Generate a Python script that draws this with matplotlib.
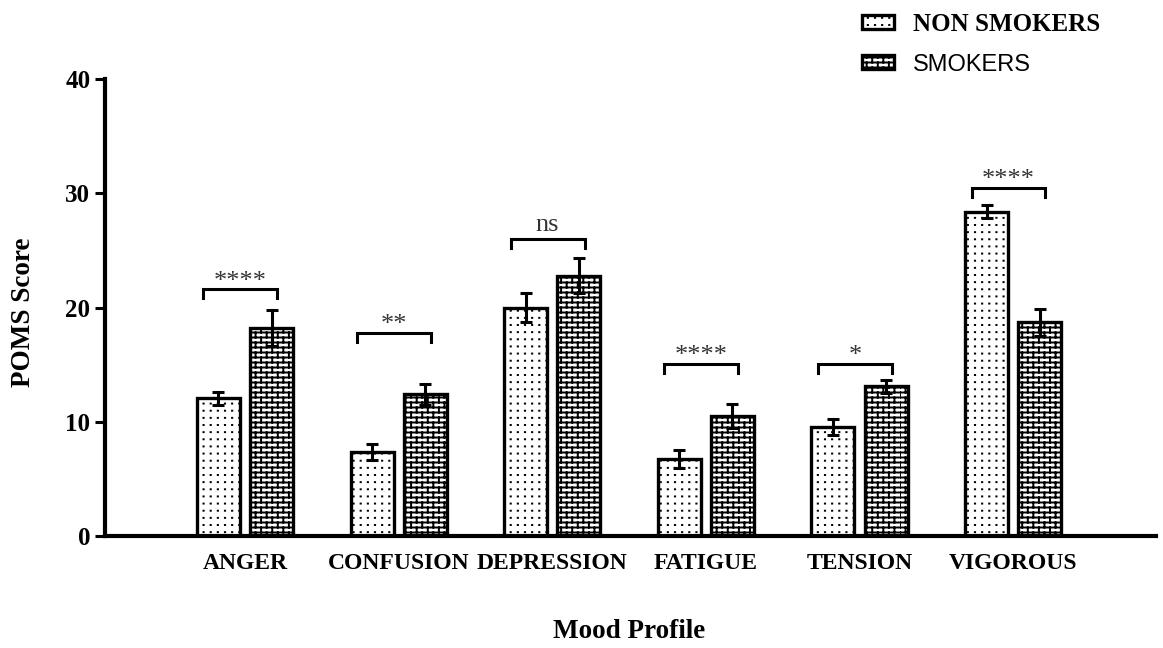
## POMS mood profile: non smokers vs smokers, grouped bars with SEM and significance brackets
import numpy as np
import matplotlib
matplotlib.use("Agg")
import matplotlib.pyplot as plt
import matplotlib.hatch as mhatch
from matplotlib.path import Path

categories = ["ANGER", "CONFUSION", "DEPRESSION", "FATIGUE", "TENSION", "VIGOROUS"]
non_smokers = [12.05, 7.35, 20.0, 6.75, 9.5, 28.4]
non_smokers_err = [0.6, 0.7, 1.25, 0.8, 0.7, 0.6]
smokers = [18.2, 12.4, 22.8, 10.5, 13.1, 18.7]
smokers_err = [1.6, 0.95, 1.5, 1.05, 0.6, 1.2]
signif = ["****", "**", "ns", "****", "*", "****"]
bracket_y = [21.6, 17.8, 26.0, 15.1, 15.1, 30.5]
yticks = [0, 10, 20, 30, 40]


## brick pattern for the smokers bars, used in place of the '*' hatch
class BrickHatch(mhatch.HatchPatternBase):
    def __init__(self, hatch, density):
        verts = []
        if "*" in hatch:
            rows, cols = 20, 9
            h, w = 1.0 / rows, 1.0 / cols
            for r in range(rows):
                y = (r + 0.5) * h
                verts += [(0, y), (1, y)]
                shift = w / 2 if r % 2 else 0
                for c in range(cols):
                    x = c * w + shift
                    if r == rows - 1:
                        verts += [(x, y), (x, 1.0), (x, 0.0), (x, 0.5 * h)]
                    else:
                        verts += [(x, y), (x, y + h)]
        self.verts = verts
        self.num_vertices = len(verts)

    def set_vertices_and_codes(self, vertices, codes):
        vertices[:] = np.array(self.verts)
        codes[0::2] = Path.MOVETO
        codes[1::2] = Path.LINETO


## sparse dot grid for the non smokers bars, used in place of the '.' hatch
class DotHatch(mhatch.HatchPatternBase):
    def __init__(self, hatch, density):
        verts = []
        if "." in hatch:
            n = 14
            for r in range(n):
                for c in range(n):
                    x, y = (c + 0.5) / n, (r + 0.5) / n
                    verts += [(x - 0.001, y), (x + 0.001, y)]
        self.verts = verts
        self.num_vertices = len(verts)

    def set_vertices_and_codes(self, vertices, codes):
        vertices[:] = np.array(self.verts)
        codes[0::2] = Path.MOVETO
        codes[1::2] = Path.LINETO


mhatch._hatch_types[mhatch._hatch_types.index(mhatch.Stars)] = BrickHatch
mhatch._hatch_types[mhatch._hatch_types.index(mhatch.SmallFilledCircles)] = DotHatch

plt.rcParams["font.family"] = "Liberation Serif"
plt.rcParams["hatch.linewidth"] = 1.4
plt.rcParams["hatch.color"] = "black"

x = np.arange(len(categories))
off = 0.173
width = 0.28

fig = plt.figure(figsize=(11.63, 6.48), dpi=100)
ax = fig.add_axes([0.0903, 0.1728, 0.9037, 0.7052])

b1 = ax.bar(x - off, non_smokers, width, color="white", edgecolor="black",
            linewidth=2.4, hatch=".", label="NON SMOKERS", zorder=2)
b2 = ax.bar(x + off, smokers, width, color="white", edgecolor="black",
            linewidth=2.4, hatch="*", label="SMOKERS", zorder=2)
ax.errorbar(x - off, non_smokers, yerr=non_smokers_err, fmt="none", ecolor="black",
            elinewidth=2.2, capsize=4.5, capthick=2.2, zorder=3)
ax.errorbar(x + off, smokers, yerr=smokers_err, fmt="none", ecolor="black",
            elinewidth=2.2, capsize=4.5, capthick=2.2, zorder=3)

# significance brackets
for xi, yb, s in zip(x, bracket_y, signif):
    x0, x1 = xi - 0.27, xi + 0.21
    ax.plot([x0, x0, x1, x1], [yb - 0.8, yb, yb, yb - 0.8], color="black",
            linewidth=2.2, solid_joinstyle="miter", zorder=3)
    dy = 6 if s == "ns" else 1.0
    ax.annotate(s, ((x0 + x1) / 2, yb), xytext=(0, dy), textcoords="offset points",
                ha="center", va="baseline", fontsize=19, color="#333333")

ax.set_xlim(-0.911, 5.93)
ax.set_ylim(0, 40)
ax.set_yticks(yticks)
ax.set_xticks(x)
ax.set_xticklabels(categories, fontsize=17, fontweight="bold")
ax.set_yticklabels([str(t) for t in yticks], fontsize=18, fontweight="bold")
ax.tick_params(axis="x", length=0, pad=12)
ax.tick_params(axis="y", length=7, width=2.2, pad=3.5)
for side in ["top", "right"]:
    ax.spines[side].set_visible(False)
for side in ["left", "bottom"]:
    ax.spines[side].set_linewidth(3)

fig.text(0.541, 0.025, "Mood Profile", ha="center", va="center", fontsize=19.5, fontweight="bold")
fig.text(0.02, 0.518, "POMS Score", ha="center", va="center", rotation=90,
         fontsize=19.5, fontweight="bold")

leg = fig.legend(handles=[b1, b2], loc="upper left", bbox_to_anchor=(862 / 1163, 0.98),
                 frameon=False, borderpad=0, borderaxespad=0, fontsize=18,
                 handlelength=1.28, handleheight=0.52, handletextpad=0.76, labelspacing=0.72)
t1, t2 = leg.get_texts()
t1.set_fontweight("bold")
t2.set_fontfamily("Liberation Sans")
t2.set_fontsize(17)

plt.savefig("out.png", dpi=100)
